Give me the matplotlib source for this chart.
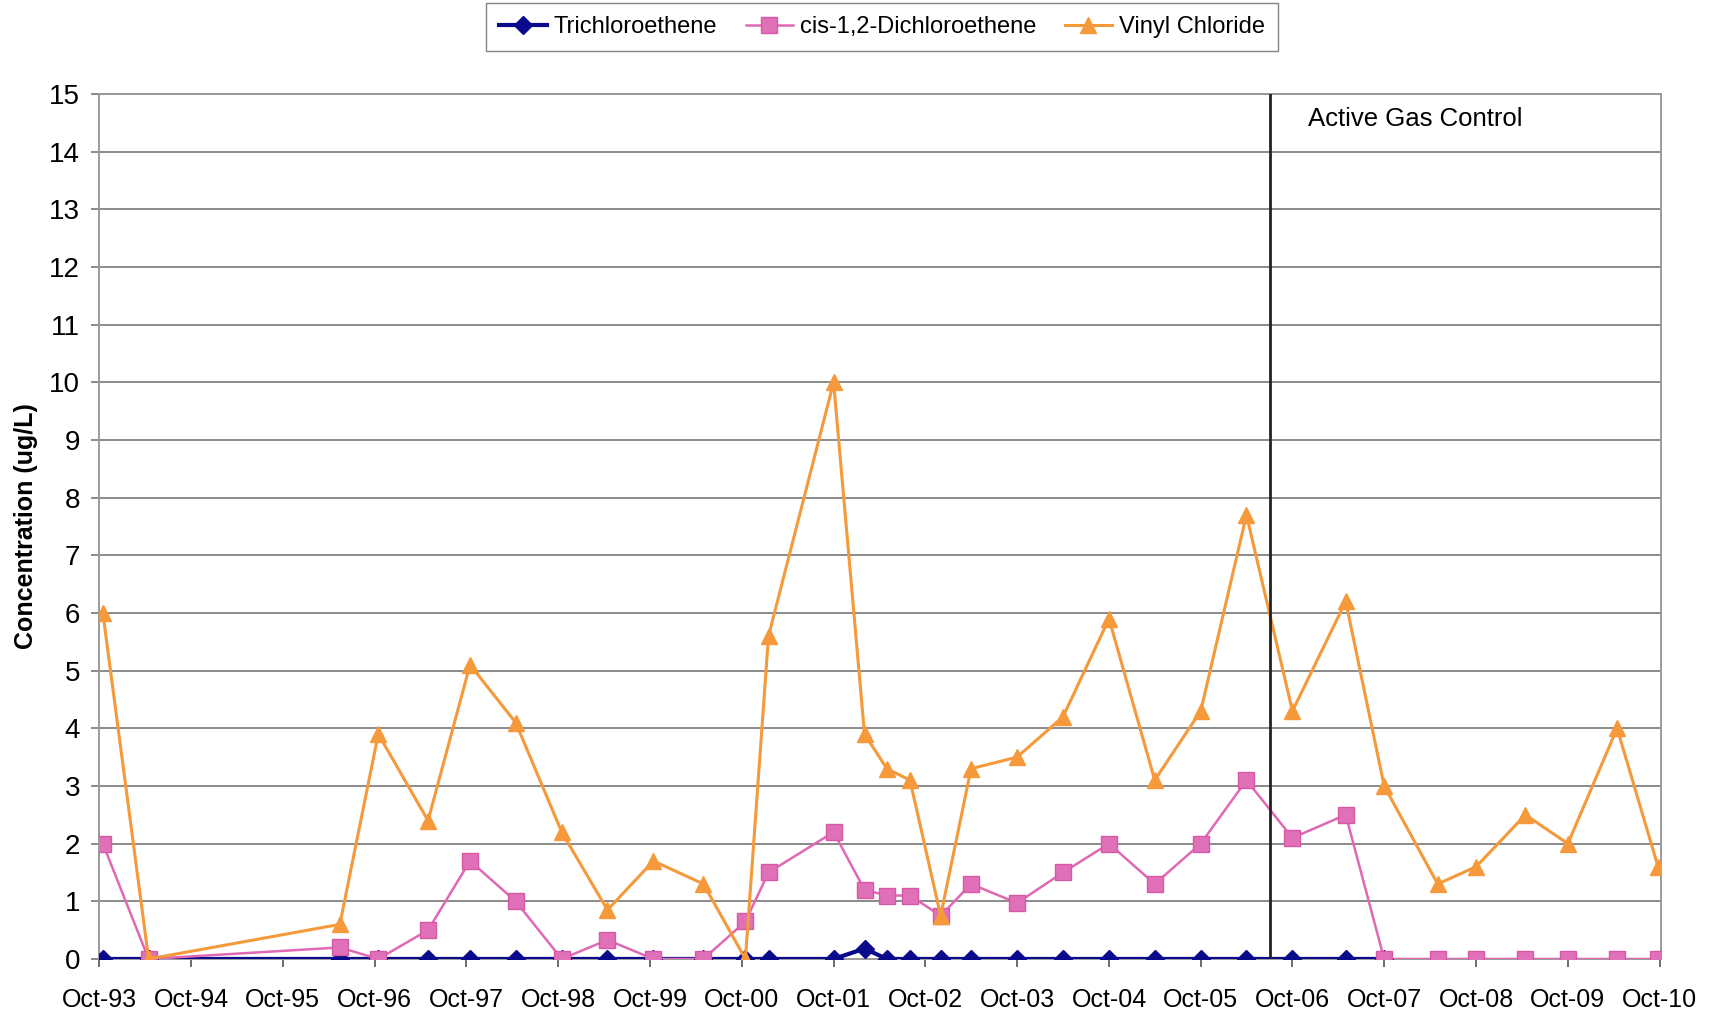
#!/usr/bin/env python3
"""Groundwater VOC concentrations over time, with the active gas control start marked."""

import matplotlib

matplotlib.use("Agg")

import matplotlib.dates as mdates
import matplotlib.pyplot as plt
import numpy as np
import pandas as pd


SAMPLE_DATES = [
    "1993-10-15", "1994-04-15", "1996-05-15", "1996-10-15", "1997-05-01",
    "1997-10-15", "1998-04-15", "1998-10-15", "1999-04-15", "1999-10-15",
    "2000-05-01", "2000-10-15", "2001-01-15", "2001-10-01", "2002-02-01",
    "2002-05-01", "2002-08-01", "2002-12-01", "2003-04-01", "2003-10-01",
    "2004-04-01", "2004-10-01", "2005-04-01", "2005-10-01", "2006-04-01",
    "2006-10-01", "2007-05-01", "2007-10-01", "2008-05-01", "2008-10-01",
    "2009-04-15", "2009-10-01", "2010-04-15", "2010-09-25",
]
TCE = [
    0, 0, 0, 0, 0, 0, 0, 0, 0, 0,
    0, 0, 0, 0, 0.18, 0, 0, 0, 0, 0,
    0, 0, 0, 0, 0, 0, 0, 0, np.nan, np.nan,
    np.nan, np.nan, np.nan, np.nan,
]
CIS_DCE = [
    2.0, 0, 0.2, 0, 0.5, 1.7, 1.0, 0, 0.33, 0,
    0, 0.65, 1.5, 2.2, 1.2, 1.1, 1.1, 0.75, 1.3, 0.97,
    1.5, 2.0, 1.3, 2.0, 3.1, 2.1, 2.5, 0, 0, 0,
    0, 0, 0, 0,
]
VINYL_CHLORIDE = [
    6.0, 0, 0.6, 3.9, 2.4, 5.1, 4.1, 2.2, 0.85, 1.7,
    1.3, 0, 5.6, 10.0, 3.9, 3.3, 3.1, 0.75, 3.3, 3.5,
    4.2, 5.9, 3.1, 4.3, 7.7, 4.3, 6.2, 3.0, 1.3, 1.6,
    2.5, 2.0, 4.0, 1.6,
]
GAS_CONTROL_START = "2006-07-05"
TICK_YEARS = list(range(1993, 2011))

FONT = ["Liberation Sans", "DejaVu Sans"]


def main():
    plt.rcParams["font.family"] = FONT
    dates = pd.to_datetime(SAMPLE_DATES)

    fig = plt.figure(figsize=(17.13, 10.15), dpi=100)
    ax = fig.add_axes([0.058, 0.0552, 0.9114, 0.8522])

    ax.plot(dates, TCE, color="#0a0a8c", lw=3.0, marker="D", ms=9.5,
            mec="#0a0a8c", label="Trichloroethene", zorder=3)
    ax.plot(dates, CIS_DCE, color="#e068b4", lw=1.8, marker="s", ms=11,
            mec="#d858a8", mfc="#e070b8", label="cis-1,2-Dichloroethene", zorder=4)
    ax.plot(dates, VINYL_CHLORIDE, color="#f5993a", lw=2.2, marker="^", ms=12,
            mec="#f5993a", label="Vinyl Chloride", zorder=5)

    ax.axvline(pd.Timestamp(GAS_CONTROL_START), color="#222222", lw=2.0, zorder=6)
    ax.text(0.774, 0.985, "Active Gas Control", transform=ax.transAxes,
            fontsize=18.5, va="top", ha="left")

    ax.set_ylim(0, 15)
    ax.set_yticks(range(0, 16))
    ax.set_xlim(pd.Timestamp("1993-10-01"), pd.Timestamp("2010-10-05"))
    ax.set_xticks([pd.Timestamp(f"{y}-10-01") for y in TICK_YEARS])
    ax.xaxis.set_major_formatter(mdates.DateFormatter("Oct-%y"))

    ax.grid(axis="y", color="#8a8a8a", lw=1.4)
    ax.set_axisbelow(True)
    for side in ["left", "right", "top", "bottom"]:
        ax.spines[side].set_color("#9a9a9a")
        ax.spines[side].set_linewidth(1.4)
    ax.tick_params(axis="x", length=6, width=1.2, color="#555555",
                   pad=15, labelsize=18)
    ax.tick_params(axis="y", length=6, width=1.2, color="#777777",
                   pad=8, labelsize=20)

    ax.set_ylabel("Concentration (ug/L)", fontsize=18, fontweight="bold", labelpad=8)

    fig.legend(loc="upper center", bbox_to_anchor=(0.515, 0.997), ncol=3,
               fontsize=17.0, frameon=True, fancybox=False, edgecolor="#666666",
               handlelength=2.0, handletextpad=0.3, columnspacing=1.2,
               borderpad=0.55, borderaxespad=0.0)

    fig.savefig("out.png", dpi=100)
    plt.close(fig)


if __name__ == "__main__":
    main()
